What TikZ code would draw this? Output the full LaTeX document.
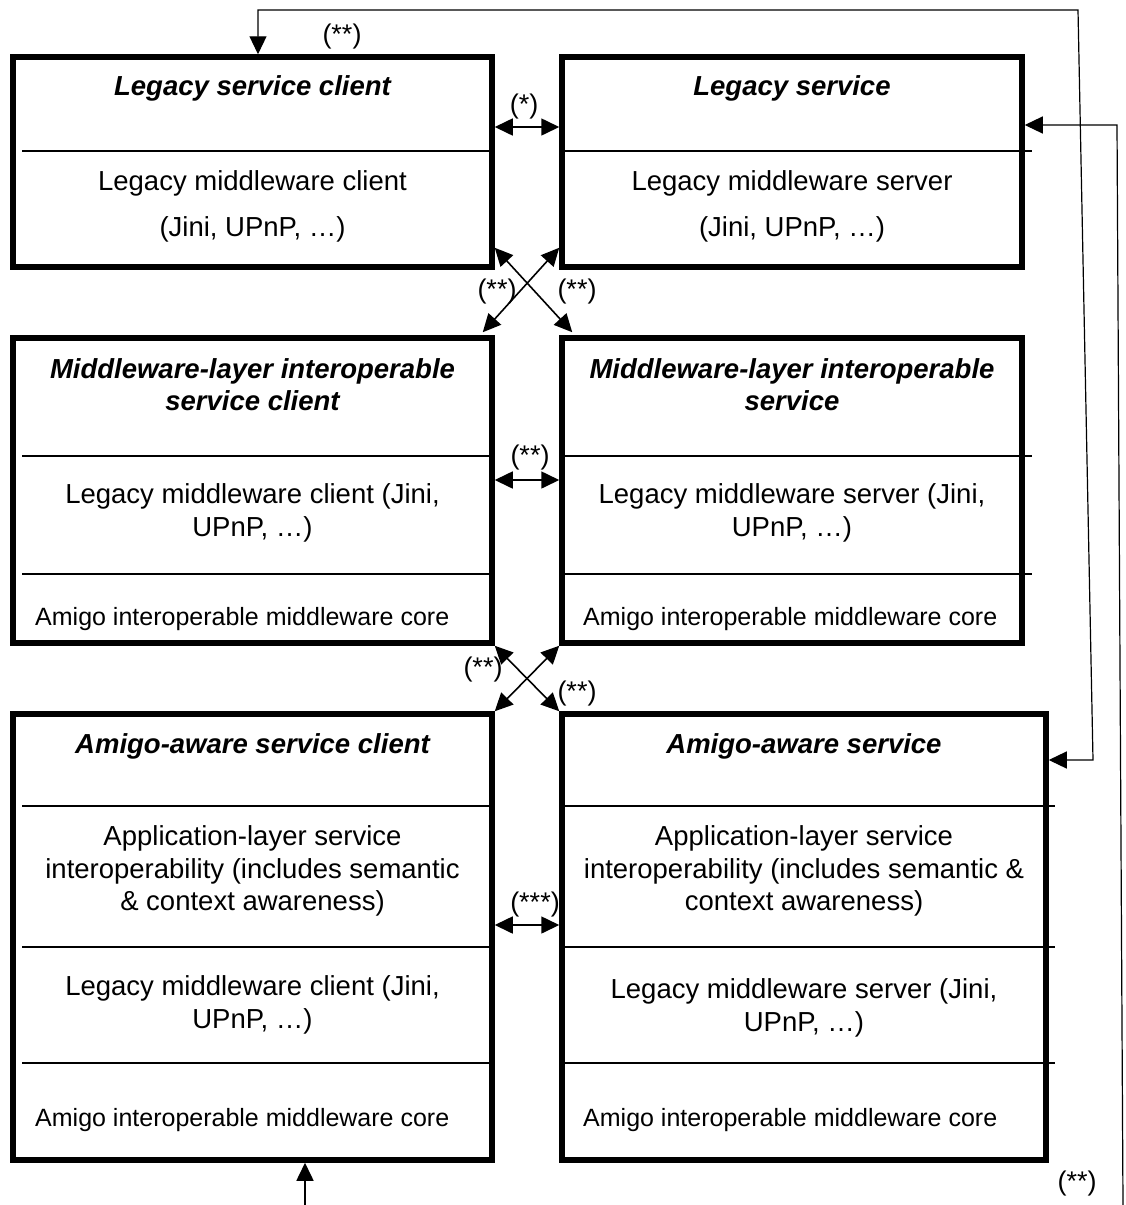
\documentclass[tikz,border=0pt]{standalone}
\usepackage{fontspec}
\setmainfont{Liberation Sans}
\usetikzlibrary{arrows.meta}
\begin{document}
\begin{tikzpicture}[x=1pt,y=-1pt,
  box/.style={draw, line width=5.5pt, rectangle, inner sep=0pt},
  divline/.style={line width=1.5pt},
  body/.style={font=\fontsize{27.5}{32}\selectfont, inner sep=0pt, anchor=base},
  ttl/.style={font=\fontsize{27.5}{32}\selectfont\bfseries\itshape, inner sep=0pt, anchor=base},
  core/.style={font=\fontsize{25}{30}\selectfont, inner sep=0pt, anchor=base west},
  lbl/.style={font=\fontsize{27}{30}\selectfont, inner sep=0pt},
  conn/.style={line width=1.6pt, arrows={-Triangle[length=18pt,width=17pt]}},
  dconn/.style={line width=1.6pt, arrows={Triangle[length=18pt,width=17pt]-Triangle[length=18pt,width=17pt]}},
  longconn/.style={line width=1.2pt}
]
\useasboundingbox (0,0) rectangle (1125,1205);

% ---- boxes ----
\node[box, minimum width=479pt, minimum height=210pt] (lsc) at (252.5,162) {};
\node[box, minimum width=460pt, minimum height=210pt] (ls)  at (792,162) {};
\node[box, minimum width=479pt, minimum height=305pt] (mlc) at (252.5,490.5) {};
\node[box, minimum width=460pt, minimum height=305pt] (mls) at (792,490.5) {};
\node[box, minimum width=479pt, minimum height=446pt] (aac) at (252.5,937) {};
\node[box, minimum width=484pt, minimum height=446pt] (aas) at (804,937) {};

% ---- dividers ----
\draw[divline] (22,151) -- (490,151);
\draw[divline] (562,151) -- (1032,151);
\draw[divline] (22,456) -- (490,456);
\draw[divline] (22,574) -- (490,574);
\draw[divline] (562,456) -- (1032,456);
\draw[divline] (562,574) -- (1032,574);
\draw[divline] (22,806) -- (490,806);
\draw[divline] (22,947) -- (490,947);
\draw[divline] (22,1063) -- (490,1063);
\draw[divline] (562,806) -- (1055,806);
\draw[divline] (562,947) -- (1055,947);
\draw[divline] (562,1063) -- (1055,1063);

% ---- texts row 1 ----
\node[ttl]  (t1a) at (252.5,95) {Legacy service client};
\node[body] (t1b) at (252.5,190) {Legacy middleware client};
\node[body] (t1c) at (252.5,236) {(Jini, UPnP, …)};
\node[ttl]  (t2a) at (792,95) {Legacy service};
\node[body] (t2b) at (792,190) {Legacy middleware server};
\node[body] (t2c) at (792,236) {(Jini, UPnP, …)};

% ---- texts row 2 ----
\node[ttl]  (t3a) at (252.5,378) {Middleware-layer interoperable};
\node[ttl]  (t3b) at (252.5,410) {service client};
\node[body] (t3c) at (252.5,503) {Legacy middleware client (Jini,};
\node[body] (t3d) at (252.5,536) {UPnP, …)};
\node[core] (t3e) at (35,625) {Amigo interoperable middleware core};
\node[ttl]  (t4a) at (792,378) {Middleware-layer interoperable};
\node[ttl]  (t4b) at (792,410) {service};
\node[body] (t4c) at (792,503) {Legacy middleware server (Jini,};
\node[body] (t4d) at (792,536) {UPnP, …)};
\node[core] (t4e) at (583,625) {Amigo interoperable middleware core};

% ---- texts row 3 ----
\node[ttl]  (t5a) at (252.5,753) {Amigo-aware service client};
\node[body] (t5b) at (252.5,845) {Application-layer service};
\node[body] (t5c) at (252.5,878) {interoperability (includes semantic};
\node[body] (t5d) at (252.5,910) {\& context awareness)};
\node[body] (t5e) at (252.5,995) {Legacy middleware client (Jini,};
\node[body] (t5f) at (252.5,1028) {UPnP, …)};
\node[core] (t5g) at (35,1126) {Amigo interoperable middleware core};
\node[ttl]  (t6a) at (804,753) {Amigo-aware service};
\node[body] (t6b) at (804,845) {Application-layer service};
\node[body] (t6c) at (804,878) {interoperability (includes semantic \&};
\node[body] (t6d) at (804,910) {context awareness)};
\node[body] (t6e) at (804,998) {Legacy middleware server (Jini,};
\node[body] (t6f) at (804,1031) {UPnP, …)};
\node[core] (t6g) at (583,1126) {Amigo interoperable middleware core};

% ---- horizontal connectors ----
\draw[dconn] ([yshift=35pt]lsc.east) -- ([yshift=35pt]ls.west);
\draw[dconn] ([yshift=10.5pt]mlc.east) -- ([yshift=10.5pt]mls.west);
\draw[dconn] ([yshift=12pt]aac.east) -- ([yshift=12pt]aas.west);

% ---- crossing connectors ----
\draw[dconn] ([yshift=22pt]lsc.south east) -- ([xshift=13pt,yshift=3pt]mls.north west);
\draw[dconn] ([yshift=22pt]ls.south west) -- ([xshift=-12pt,yshift=3pt]mlc.north east);
\draw[dconn] (mlc.south east) -- (aas.north west);
\draw[dconn] (mls.south west) -- (aac.north east);

% ---- long connectors ----
\draw[longconn, arrows={Triangle[length=18pt,width=17pt]-Triangle[length=18pt,width=17pt]}]
  ([yshift=177pt]aas.east) -- (1093,760) -- (1078,10) -| ([xshift=5.5pt]lsc.north);
\coordinate (bot2) at (1123,1205);
\draw[longconn, arrows={-Triangle[length=18pt,width=17pt]}]
  (bot2) -- (1117,125) -- ([yshift=37pt]ls.east);
\coordinate (bot1) at (305,1205);
\draw[conn] (bot1) -- (bot1 |- aac.south);

% ---- labels ----
\node[lbl] (l1) at (342,37) {(**)};
\node[lbl] (l2) at (524,107) {(*)};
\node[lbl] (l3) at (497,292) {(**)};
\node[lbl] (l4) at (577,292) {(**)};
\node[lbl] (l5) at (530,458) {(**)};
\node[lbl] (l6) at (483,670) {(**)};
\node[lbl] (l7) at (577,694) {(**)};
\node[lbl] (l8) at (535,905) {(***)};
\node[lbl] (l9) at (1077,1183) {(**)};
\end{tikzpicture}
\end{document}
